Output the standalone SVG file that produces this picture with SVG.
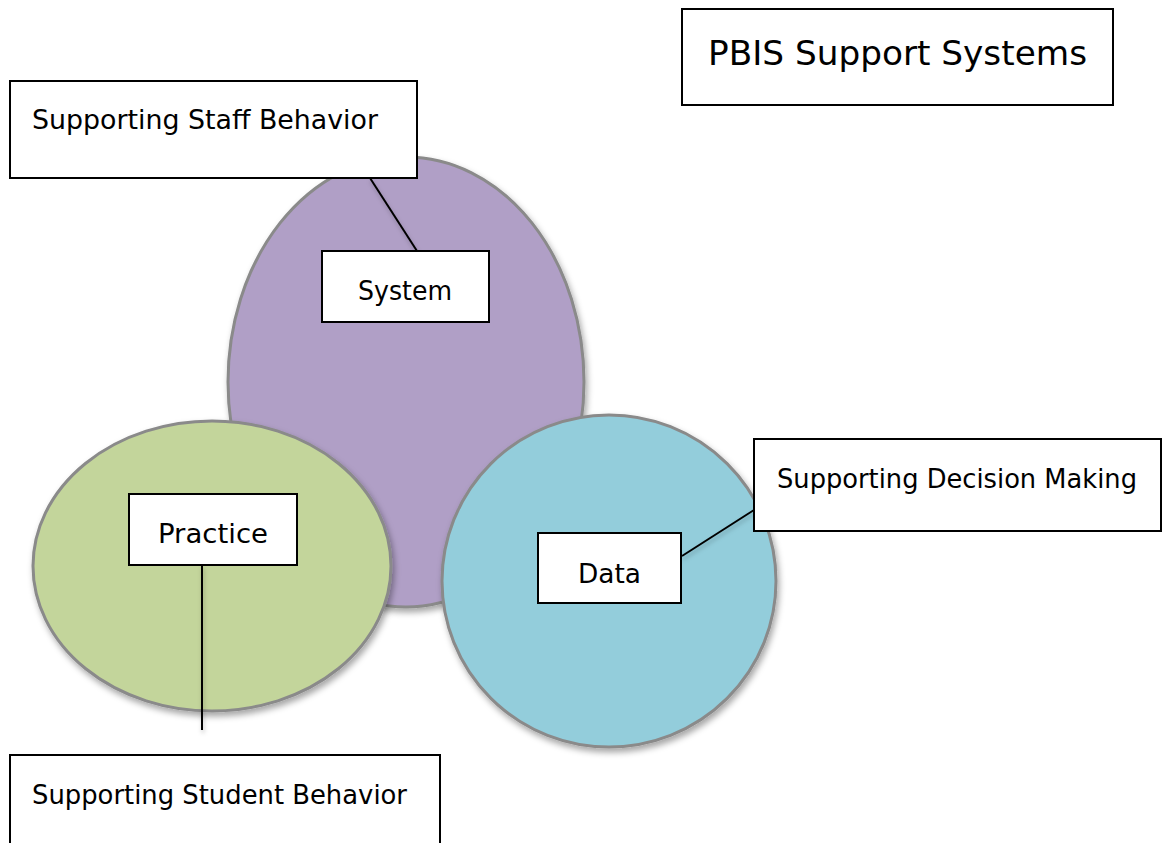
<svg xmlns="http://www.w3.org/2000/svg" width="1163" height="843" viewBox="0 0 1163 843">
<defs>
<filter id="sh" x="-10%" y="-10%" width="125%" height="125%">
<feDropShadow dx="2" dy="4" stdDeviation="3" flood-color="#000" flood-opacity="0.35"/>
</filter>
<filter id="lsh" filterUnits="userSpaceOnUse" x="0" y="0" width="1163" height="843">
<feDropShadow dx="1" dy="3" stdDeviation="2" flood-color="#000" flood-opacity="0.25"/>
</filter>
</defs>
<style>
.ell{stroke:#8a8a8a;stroke-width:3;filter:url(#sh)}
.box{fill:#fff;stroke:#000;stroke-width:2}
.t{font-family:"DejaVu Sans","Liberation Sans",sans-serif;fill:#000}
.conn{stroke:#000;stroke-width:2;fill:none;filter:url(#lsh)}
</style>
<rect width="1163" height="843" fill="#fff"/>
<g id="system-circle"><ellipse class="ell" cx="406" cy="382" rx="178" ry="225" fill="#b09fc6"/></g>
<g id="practice-circle"><ellipse class="ell" cx="212" cy="566" rx="179" ry="145" fill="#c3d59b"/></g>
<g id="data-circle"><ellipse class="ell" cx="609" cy="581" rx="167" ry="166" fill="#93cddb"/></g>
<g id="connectors">
<line class="conn" x1="370" y1="178" x2="417" y2="251"/>
<line class="conn" x1="202" y1="565" x2="202" y2="730"/>
<line class="conn" x1="682" y1="556" x2="754" y2="510"/>
</g>
<g id="title">
<rect class="box" x="682" y="9" width="431" height="96" stroke-width="1.5"/>
<text class="t" x="708" y="65" font-size="33" textLength="379" lengthAdjust="spacingAndGlyphs">PBIS Support Systems</text>
</g>
<g id="staff-behavior">
<rect class="box" x="10" y="81" width="407" height="97"/>
<text class="t" x="32" y="129" font-size="26" textLength="346" lengthAdjust="spacingAndGlyphs">Supporting Staff Behavior</text>
</g>
<g id="system">
<rect class="box" x="322" y="251" width="167" height="71"/>
<text class="t" x="358" y="300" font-size="26" textLength="94" lengthAdjust="spacingAndGlyphs">System</text>
</g>
<g id="practice">
<rect class="box" x="129" y="494" width="168" height="71"/>
<text class="t" x="158" y="543" font-size="26" textLength="110" lengthAdjust="spacingAndGlyphs">Practice</text>
</g>
<g id="data">
<rect class="box" x="538" y="533" width="143" height="70"/>
<text class="t" x="578" y="583" font-size="26" textLength="63" lengthAdjust="spacingAndGlyphs">Data</text>
</g>
<g id="decision-making">
<rect class="box" x="754" y="439" width="407" height="92"/>
<text class="t" x="777" y="488" font-size="26" textLength="360" lengthAdjust="spacingAndGlyphs">Supporting Decision Making</text>
</g>
<g id="student-behavior">
<rect class="box" x="10" y="755" width="430" height="100"/>
<text class="t" x="32" y="804" font-size="26" textLength="375" lengthAdjust="spacingAndGlyphs">Supporting Student Behavior</text>
</g>
</svg>
